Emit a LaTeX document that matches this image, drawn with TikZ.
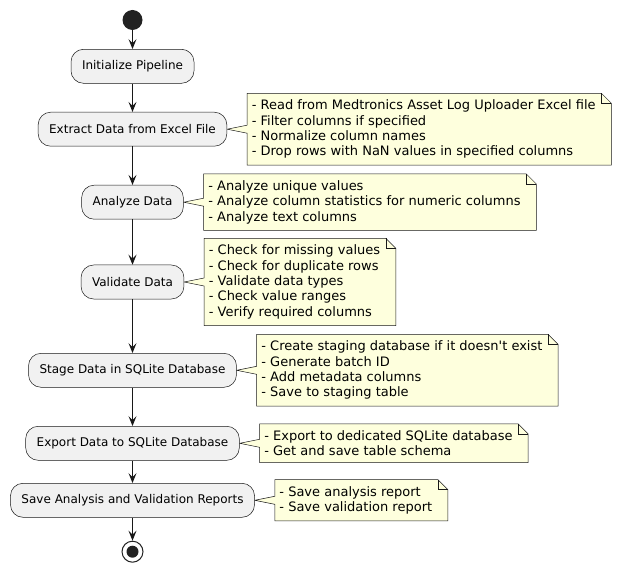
\documentclass[tikz,border=0pt]{standalone}
\usepackage{fontspec}
\setmainfont{DejaVu Sans}
\usetikzlibrary{%
  arrows.meta,
  positioning,
  backgrounds
}

\definecolor{actfill}{HTML}{F1F1F1}
\definecolor{notefill}{HTML}{FEFFDD}
\definecolor{linecol}{HTML}{181818}
\definecolor{dotcol}{HTML}{222222}

\tikzset{
  actbox/.style={draw=linecol, line width=0.5pt, fill=actfill,
    rounded corners=12.5pt, minimum height=34pt, inner xsep=11pt,
    font=\fontsize{12}{14}\selectfont},
  notebox/.style={inner xsep=4.5pt, inner ysep=6.5pt, align=left,
    font=\fontsize{13}{15.3}\selectfont},
  startdot/.style={circle, fill=dotcol, minimum size=20pt, inner sep=0pt},
  stopdot/.style={circle, draw=dotcol, line width=1pt, fill=white,
    minimum size=21pt, inner sep=0pt},
  flow/.style={draw=linecol, line width=1pt,
    -{Stealth[length=10pt,width=8pt,inset=4pt]}}
}

% note outline with folded corner and pointer: #1 activity, #2 note
\newcommand{\noteshape}[2]{%
  \filldraw[fill=notefill, draw=linecol, line width=0.5pt, line join=miter]
    ([yshift=4pt]#2.west) -- (#2.north west)
    -- ([xshift=1pt]#2.north east)
    -- ([xshift=11pt,yshift=-10pt]#2.north east)
    -- ([xshift=11pt]#2.south east) -- (#2.south west)
    -- ([yshift=-4pt]#2.west) -- (#1.east) -- cycle;
  \draw[draw=linecol, line width=0.5pt]
    ([xshift=1pt]#2.north east) |- ([xshift=11pt,yshift=-10pt]#2.north east);
}

\begin{document}
\begin{tikzpicture}[x=1pt, y=-1pt]
    \useasboundingbox (0,0) rectangle (624,572);

    % activities
    \node[startdot] (start) at (132.5,20) {};
    \node[actbox] (init) at (132.5,66.3) {Initialize Pipeline};
    \node[actbox] (extract) at (132.5,129.2) {Extract Data from Excel File};
    \node[actbox] (analyze) at (132.5,202.2) {Analyze Data};
    \node[actbox] (validate) at (132.5,282) {Validate Data};
    \node[actbox] (stage) at (132.5,370.3) {Stage Data in SQLite Database};
    \node[actbox] (export) at (132.5,443.3) {Export Data to SQLite Database};
    \node[actbox] (save) at (132.5,500.3) {Save Analysis and Validation Reports};
    \node[stopdot] (stop) at (132.5,551.7) {};
    \fill[dotcol] (stop.center) circle[radius=6pt];

    % notes
    \node[notebox, right=20pt of extract] (readnote)
      {- Read from Medtronics Asset Log Uploader Excel file\\
       - Filter columns if specified\\
       - Normalize column names\\
       - Drop rows with NaN values in specified columns};
    \node[notebox, right=20pt of analyze] (analyzenote)
      {- Analyze unique values\\
       - Analyze column statistics for numeric columns\\
       - Analyze text columns};
    \node[notebox, right=20pt of validate] (checknote)
      {- Check for missing values\\
       - Check for duplicate rows\\
       - Validate data types\\
       - Check value ranges\\
       - Verify required columns};
    \node[notebox, right=20pt of stage] (stagenote)
      {- Create staging database if it doesn\textquotesingle t exist\\
       - Generate batch ID\\
       - Add metadata columns\\
       - Save to staging table};
    \node[notebox, right=20pt of export] (exportnote)
      {- Export to dedicated SQLite database\\
       - Get and save table schema};
    \node[notebox, right=20pt of save] (savenote)
      {- Save analysis report\\
       - Save validation report};

    \begin{scope}[on background layer]
      \foreach \act/\nt in {extract/readnote, analyze/analyzenote,
          validate/checknote, stage/stagenote, export/exportnote,
          save/savenote}
        {\noteshape{\act}{\nt}}
    \end{scope}

    % flow
    \draw[flow] (start) -- (init);
    \draw[flow] (init) -- (extract);
    \draw[flow] (extract) -- (analyze);
    \draw[flow] (analyze) -- (validate);
    \draw[flow] (validate) -- (stage);
    \draw[flow] (stage) -- (export);
    \draw[flow] (export) -- (save);
    \draw[flow] (save) -- (stop);

\end{tikzpicture}
\end{document}
